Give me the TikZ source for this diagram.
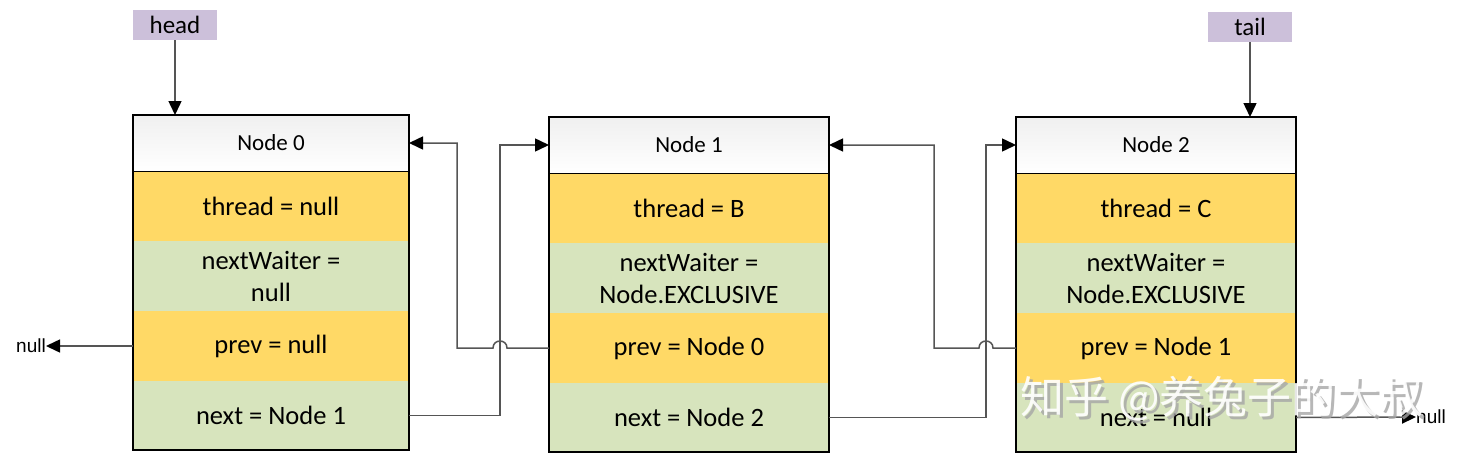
\documentclass[tikz,border=0pt]{standalone}
\usepackage{fontspec}
\setmainfont{Carlito}
\newfontfamily\cjkfont{Noto Sans CJK SC}
\newfontfamily\arialfont{Liberation Sans}
\usetikzlibrary{arrows.meta}
\definecolor{rowyellow}{RGB}{255,217,102}
\definecolor{rowgreen}{RGB}{215,228,189}
\definecolor{labelpurple}{RGB}{204,192,218}
\definecolor{linkgray}{RGB}{85,85,85}
\tikzset{
  cell/.style={inner sep=0pt, outer sep=0pt, anchor=north west, align=center,
    font=\fontsize{26.5}{32}\selectfont, text=black},
  hdrcell/.style={cell, top color=gray!12, bottom color=white, font=\fontsize{23}{28}\selectfont},
  ycell/.style={cell, fill=rowyellow},
  gcell/.style={cell, fill=rowgreen},
  boxborder/.style={draw=black, line width=2pt},
  hdrline/.style={draw=black, line width=1pt},
  ptrlabel/.style={fill=labelpurple, inner sep=0pt, minimum width=84pt, minimum height=30pt,
    font=\fontsize{25}{28}\selectfont},
  nulltext/.style={inner sep=0pt, font=\arialfont\fontsize{19}{22}\selectfont},
  link/.style={draw=linkgray, line width=1.5pt, -{Triangle[length=14pt,width=13pt,color=black]}},
  ptr/.style={draw=linkgray, line width=1.5pt, -{Triangle[length=14pt,width=13pt,color=black]}},
}
\begin{document}
\begin{tikzpicture}[x=1pt,y=-1pt]
\useasboundingbox (0,0) rectangle (1462,455);
\fill[white] (0,0) rectangle (1462,455);

% Node 0
\node[hdrcell, minimum width=276pt, minimum height=56pt] (n0h) at (133,115) {Node 0};
\node[ycell, minimum width=276pt, minimum height=70pt] (n0t) at (133,171) {thread = null};
\node[gcell, minimum width=276pt, minimum height=70pt] (n0w) at (133,241) {nextWaiter =\\null};
\node[ycell, minimum width=276pt, minimum height=70pt] (n0p) at (133,311) {prev = null};
\node[gcell, minimum width=276pt, minimum height=69pt] (n0n) at (133,381) {next = Node 1};
\draw[hdrline] (n0h.south west) -- (n0h.south east);
\draw[boxborder] (n0h.north west) rectangle (n0n.south east);

% Node 1
\node[hdrcell, minimum width=280pt, minimum height=56pt] (n1h) at (549,117) {Node 1};
\node[ycell, minimum width=280pt, minimum height=70pt] (n1t) at (549,173) {thread = B};
\node[gcell, minimum width=280pt, minimum height=70pt] (n1w) at (549,243) {nextWaiter =\\Node.EXCLUSIVE};
\node[ycell, minimum width=280pt, minimum height=70pt] (n1p) at (549,313) {prev = Node 0};
\node[gcell, minimum width=280pt, minimum height=69pt] (n1n) at (549,383) {next = Node 2};
\draw[hdrline] (n1h.south west) -- (n1h.south east);
\draw[boxborder] (n1h.north west) rectangle (n1n.south east);

% Node 2
\node[hdrcell, minimum width=280pt, minimum height=56pt] (n2h) at (1016,117) {Node 2};
\node[ycell, minimum width=280pt, minimum height=70pt] (n2t) at (1016,173) {thread = C};
\node[gcell, minimum width=280pt, minimum height=70pt] (n2w) at (1016,243) {nextWaiter =\\Node.EXCLUSIVE};
\node[ycell, minimum width=280pt, minimum height=70pt] (n2p) at (1016,313) {prev = Node 1};
\node[gcell, minimum width=280pt, minimum height=69pt] (n2n) at (1016,383) {next = null};
\draw[hdrline] (n2h.south west) -- (n2h.south east);
\draw[boxborder] (n2h.north west) rectangle (n2n.south east);

% head / tail
\node[ptrlabel] (head) at (175,25) {head};
\node[ptrlabel] (tail) at (1250,27) {tail};
\draw[ptr] (head.south) -- (head.south |- n0h.north);
\draw[ptr] (tail.south) -- (tail.south |- n2h.north);

% null ends
\node[nulltext, anchor=east] (nullL) at (46,346) {null};
\node[nulltext, anchor=west] (nullR) at (1416,417) {null};
\draw[link] (n0p.west) -- (nullL.east);
\draw[link] (n2n.east) -- (nullR.west);

% links between nodes
\draw[link] (n0n.east) -- (500,415.5) -- (500,145) -- (n1h.west);
\draw[link] (n1p.west) -- (507,348) .. controls (507,338.7) and (493,338.7) .. (493,348)
  -- (457,348) -- (457,143) -- (n0h.east);
\draw[link] (n1n.east) -- (986,417.5) -- (986,145) -- (n2h.west);
\draw[link] (n2p.west) -- (993,348) .. controls (993,338.7) and (979,338.7) .. (979,348)
  -- (934,348) -- (934,145) -- (n1h.east);

% watermark
\node[inner sep=0pt, text=gray!70, opacity=0.8, font=\cjkfont\fontsize{44}{50}\selectfont] (wmshadow) at (1225,402) {知乎 @养兔子的大叔};
\node[inner sep=0pt, text=white, opacity=0.9, font=\cjkfont\fontsize{44}{50}\selectfont] (wm) at (1222,399) {知乎 @养兔子的大叔};
\end{tikzpicture}
\end{document}
